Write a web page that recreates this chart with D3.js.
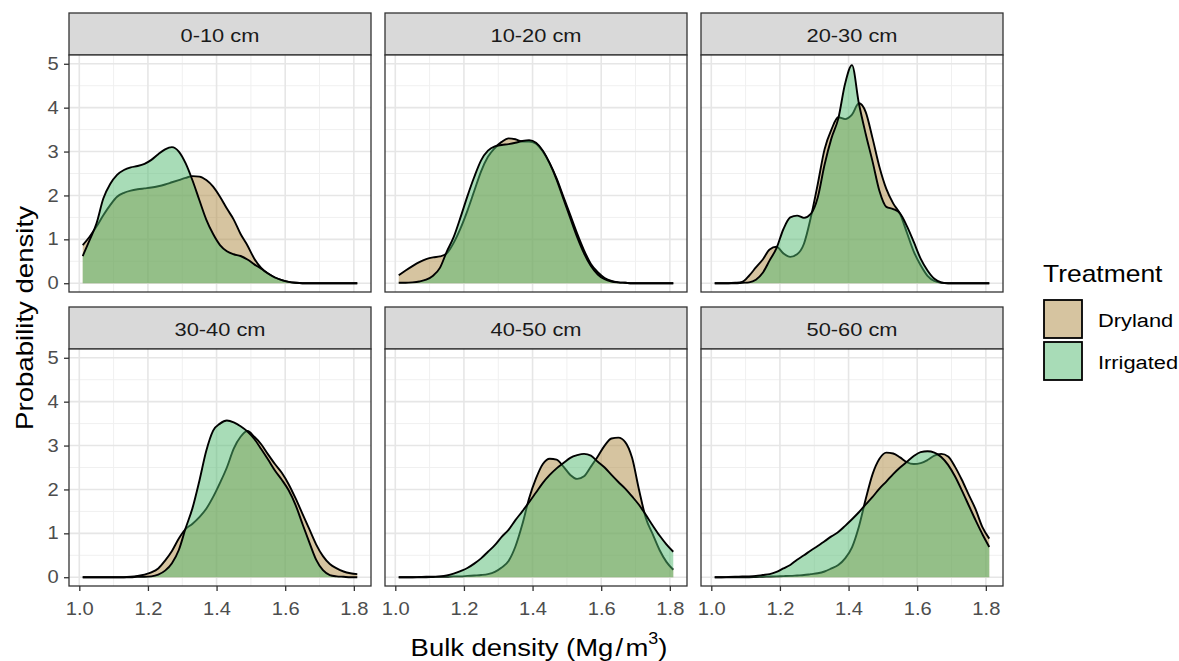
<!DOCTYPE html>
<html lang="en">
<head>
<meta charset="utf-8">
<style>
  body { margin: 0; background: #fff; }
  svg text { font-family: "Liberation Sans", Arial, sans-serif; }
</style>
</head>
<body>
<svg width="1179" height="661"></svg>
<script src="https://d3js.org/d3.v7.min.js"></script>
<script>
// facets and groups
var depths = ["0-10 cm", "10-20 cm", "20-30 cm", "30-40 cm", "40-50 cm", "50-60 cm"];
var treatments = ["Dryland", "Irrigated"];
var treatmentColors = ["#AD8941", "#51B96F"];

// x positions of the density estimate (Mg/m3)
var bulkDensity = [1.01, 1.03, 1.05, 1.07, 1.09, 1.11, 1.13, 1.15, 1.17, 1.19,
    1.21, 1.23, 1.25, 1.27, 1.29, 1.31, 1.33, 1.35, 1.37, 1.39,
    1.41, 1.43, 1.45, 1.47, 1.49, 1.51, 1.53, 1.55, 1.57, 1.59,
    1.61, 1.63, 1.65, 1.67, 1.69, 1.71, 1.73, 1.75, 1.77, 1.79, 1.81];

// densities
var dryland_0_10 = [0.87, 1.06, 1.29, 1.55, 1.78, 1.97, 2.06, 2.11, 2.14, 2.16,
    2.18, 2.21, 2.25, 2.30, 2.35, 2.40, 2.44, 2.43, 2.35, 2.20,
    1.97, 1.70, 1.45, 1.12, 0.86, 0.56, 0.35, 0.22, 0.13, 0.07,
    0.03, 0.01, 0, 0, 0, 0, 0, 0, 0, 0, 0];
var irrigated_0_10 = [0.62, 0.98, 1.36, 1.93, 2.26, 2.47, 2.58, 2.64, 2.67, 2.72,
    2.81, 2.94, 3.05, 3.10, 3.00, 2.73, 2.34, 1.89, 1.45, 1.12,
    0.87, 0.73, 0.66, 0.62, 0.54, 0.43, 0.33, 0.22, 0.13, 0.07,
    0.03, 0.01, 0, 0, 0, 0, 0, 0, 0, 0, 0];
var dryland_10_20 = [0.18, 0.29, 0.39, 0.48, 0.55, 0.59, 0.61, 0.68, 0.92, 1.25,
    1.65, 2.10, 2.55, 2.88, 3.08, 3.22, 3.30, 3.28, 3.23, 3.23,
    3.18, 3.00, 2.73, 2.39, 1.97, 1.55, 1.13, 0.75, 0.44, 0.25,
    0.12, 0.05, 0.02, 0.01, 0, 0, 0, 0, 0, 0, 0];
var irrigated_10_20 = [0.01, 0.01, 0.02, 0.04, 0.08, 0.17, 0.35, 0.72, 1.05, 1.50,
    1.98, 2.42, 2.80, 3.02, 3.12, 3.15, 3.17, 3.20, 3.24, 3.26,
    3.20, 3.02, 2.73, 2.36, 1.92, 1.48, 1.05, 0.68, 0.39, 0.20,
    0.09, 0.04, 0.02, 0.01, 0, 0, 0, 0, 0, 0, 0];
var dryland_20_30 = [0, 0, 0, 0.01, 0.03, 0.17, 0.36, 0.54, 0.77, 0.83,
    0.68, 0.60, 0.66, 0.90, 1.50, 2.25, 3.05, 3.50, 3.78, 3.74,
    3.84, 4.10, 3.90, 3.30, 2.65, 2.15, 1.82, 1.58, 1.15, 0.72,
    0.41, 0.17, 0.05, 0.01, 0, 0, 0, 0, 0, 0, 0];
var irrigated_20_30 = [0, 0, 0, 0, 0.01, 0.02, 0.08, 0.24, 0.52, 0.80,
    1.23, 1.50, 1.54, 1.49, 1.58, 1.95, 2.70, 3.30, 3.75, 4.55,
    4.97, 4.10, 3.40, 2.77, 2.10, 1.74, 1.69, 1.59, 1.30, 0.94,
    0.56, 0.29, 0.10, 0.02, 0, 0, 0, 0, 0, 0, 0];
var dryland_30_40 = [0, 0, 0, 0, 0, 0, 0, 0.01, 0.03, 0.06,
    0.11, 0.20, 0.38, 0.60, 0.88, 1.10, 1.22, 1.37, 1.56, 1.83,
    2.15, 2.50, 2.93, 3.20, 3.33, 3.20, 3.03, 2.80, 2.58, 2.38,
    2.12, 1.80, 1.45, 1.10, 0.75, 0.48, 0.30, 0.20, 0.13, 0.09, 0.07];
var irrigated_30_40 = [0, 0, 0, 0, 0, 0, 0, 0, 0.01, 0.01,
    0.02, 0.06, 0.15, 0.32, 0.62, 1.12, 1.58, 2.20, 2.88, 3.34,
    3.50, 3.57, 3.53, 3.44, 3.32, 3.15, 2.92, 2.68, 2.43, 2.22,
    1.98, 1.65, 1.22, 0.80, 0.40, 0.16, 0.05, 0.02, 0.01, 0, 0];
var dryland_40_50 = [0, 0, 0, 0, 0, 0.005, 0.01, 0.01, 0.02, 0.02,
    0.03, 0.04, 0.05, 0.07, 0.12, 0.22, 0.37, 0.70, 1.20, 1.80,
    2.25, 2.58, 2.70, 2.68, 2.52, 2.33, 2.24, 2.30, 2.52, 2.75,
    3.00, 3.16, 3.18, 3.08, 2.72, 2.00, 1.35, 0.98, 0.62, 0.35, 0.17];
var irrigated_40_50 = [0, 0, 0, 0.005, 0.01, 0.01, 0.02, 0.04, 0.08, 0.14,
    0.21, 0.31, 0.43, 0.58, 0.73, 0.92, 1.08, 1.30, 1.50, 1.71,
    1.93, 2.15, 2.33, 2.48, 2.60, 2.72, 2.78, 2.81, 2.77, 2.63,
    2.50, 2.33, 2.17, 2.02, 1.84, 1.65, 1.42, 1.18, 0.95, 0.75, 0.58];
var dryland_50_60 = [0, 0, 0, 0, 0, 0, 0.005, 0.01, 0.015, 0.02,
    0.025, 0.03, 0.04, 0.05, 0.07, 0.09, 0.13, 0.20, 0.28, 0.43,
    0.68, 1.15, 1.78, 2.35, 2.70, 2.84, 2.82, 2.73, 2.62, 2.58,
    2.60, 2.67, 2.77, 2.81, 2.75, 2.52, 2.22, 1.88, 1.55, 1.14, 0.88];
var irrigated_50_60 = [0, 0, 0.005, 0.01, 0.015, 0.02, 0.03, 0.05, 0.07, 0.12,
    0.20, 0.28, 0.40, 0.50, 0.61, 0.71, 0.82, 0.93, 1.03, 1.17,
    1.32, 1.48, 1.66, 1.83, 2.02, 2.18, 2.35, 2.50, 2.63, 2.76,
    2.85, 2.87, 2.84, 2.74, 2.56, 2.30, 1.98, 1.64, 1.30, 0.98, 0.69];

var xTicks = [1.0, 1.2, 1.4, 1.6, 1.8];
var xMinor = [1.1, 1.3, 1.5, 1.7];
var yTicks = [0, 1, 2, 3, 4, 5];
var yMinor = [0.5, 1.5, 2.5, 3.5, 4.5];

var panels = [
    [dryland_0_10, irrigated_0_10],
    [dryland_10_20, irrigated_10_20],
    [dryland_20_30, irrigated_20_30],
    [dryland_30_40, irrigated_30_40],
    [dryland_40_50, irrigated_40_50],
    [dryland_50_60, irrigated_50_60]
];

var svg = d3.select("svg");

// layout
var panelW = 302, panelH = 237, stripH = 42;
var colLeft = [69, 385, 701];
var rowTop = [13, 307];
var SX = 1.15; // text in the picture is a bit wide

var x = d3.scaleLinear().domain([0.97, 1.85]).range([0, panelW]);
var y = d3.scaleLinear().domain([-0.2, 5.2]).range([panelH, 0]);

var area = d3.area()
    .x(function (d) { return x(d[0]); })
    .y0(y(0))
    .y1(function (d) { return y(d[1]); })
    .curve(d3.curveMonotoneX);
var line = d3.line()
    .x(function (d) { return x(d[0]); })
    .y(function (d) { return y(d[1]); })
    .curve(d3.curveMonotoneX);

function addText(g, tx, ty, str, size, anchor, fill) {
    return g.append("text")
        .attr("transform", "translate(" + tx + "," + ty + ") scale(" + SX + ",1)")
        .attr("text-anchor", anchor)
        .attr("dominant-baseline", "central")
        .style("font-size", size + "px")
        .attr("fill", fill)
        .text(str);
}

function styleTicks(ax) {
    ax.select(".domain").remove();
    ax.selectAll("line").attr("stroke", "#333333").attr("stroke-width", 1.3);
    ax.selectAll("text")
        .attr("transform", "scale(" + SX + ",1)")
        .attr("fill", "#4D4D4D")
        .style("font-size", "17.5px")
        .style("font-family", "Liberation Sans, Arial, sans-serif");
}

depths.forEach(function (depth, i) {
    var col = i % 3, row = Math.floor(i / 3);
    var left = colLeft[col], top = rowTop[row];

    // strip
    var strip = svg.append("g").attr("transform", "translate(" + left + "," + top + ")");
    strip.append("rect")
        .attr("width", panelW).attr("height", stripH)
        .attr("fill", "#D9D9D9").attr("stroke", "#333333").attr("stroke-width", 1.3);
    addText(strip, panelW / 2, stripH / 2 + 1, depth, 19, "middle", "#1A1A1A");

    var g = svg.append("g").attr("transform", "translate(" + left + "," + (top + stripH) + ")");
    g.append("rect").attr("width", panelW).attr("height", panelH).attr("fill", "#fff");

    // grid
    g.selectAll(".minx").data(xMinor).enter().append("line")
        .attr("x1", x).attr("x2", x).attr("y1", 0).attr("y2", panelH)
        .attr("stroke", "#F0F0F0").attr("stroke-width", 1);
    g.selectAll(".miny").data(yMinor).enter().append("line")
        .attr("y1", y).attr("y2", y).attr("x1", 0).attr("x2", panelW)
        .attr("stroke", "#F0F0F0").attr("stroke-width", 1);
    g.selectAll(".majx").data(xTicks).enter().append("line")
        .attr("x1", x).attr("x2", x).attr("y1", 0).attr("y2", panelH)
        .attr("stroke", "#E6E6E6").attr("stroke-width", 1.6);
    g.selectAll(".majy").data(yTicks).enter().append("line")
        .attr("y1", y).attr("y2", y).attr("x1", 0).attr("x2", panelW)
        .attr("stroke", "#E6E6E6").attr("stroke-width", 1.6);

    // densities: dryland first, irrigated on top
    panels[i].forEach(function (vals, t) {
        var pts = bulkDensity.map(function (b, k) { return [b, vals[k]]; });
        g.append("path").datum(pts)
            .attr("d", area)
            .attr("fill", treatmentColors[t])
            .attr("fill-opacity", 0.5);
        g.append("path").datum(pts)
            .attr("d", line)
            .attr("fill", "none")
            .attr("stroke", "#000")
            .attr("stroke-width", 1.9);
    });

    g.append("rect").attr("width", panelW).attr("height", panelH)
        .attr("fill", "none").attr("stroke", "#333333").attr("stroke-width", 1.3);

    // axes
    if (col === 0) {
        var ya = g.append("g")
            .call(d3.axisLeft(y).tickValues(yTicks).tickFormat(d3.format("d")).tickSize(5).tickPadding(4));
        styleTicks(ya);
    }
    if (row === 1) {
        var xa = g.append("g").attr("transform", "translate(0," + panelH + ")")
            .call(d3.axisBottom(x).tickValues(xTicks).tickFormat(d3.format(".1f")).tickSize(5).tickPadding(12));
        styleTicks(xa);
    }
});

// axis titles
var xt = svg.append("text")
    .attr("transform", "translate(" + (colLeft[0] + (colLeft[2] + panelW - colLeft[0]) / 2 + 3) + ",648) scale(1.12,1)")
    .attr("text-anchor", "middle")
    .attr("dominant-baseline", "central")
    .style("font-size", "24.5px")
    .attr("fill", "#000");
xt.append("tspan").text("Bulk density (Mg");
xt.append("tspan").attr("dx", 2).text("/");
xt.append("tspan").attr("dx", 2).text("m");
xt.append("tspan").attr("dy", -10).style("font-size", "16px").text("3");
xt.append("tspan").attr("dy", 10).text(")");

svg.append("text")
    .attr("transform", "translate(25,318) rotate(-90) scale(1.2,1)")
    .attr("text-anchor", "middle")
    .attr("dominant-baseline", "central")
    .style("font-size", "23px")
    .attr("fill", "#000")
    .text("Probability density");

// legend
var legend = svg.append("g").attr("transform", "translate(1043,0)");
addText(legend, 0, 274, "Treatment", 23, "start", "#000");
treatments.forEach(function (name, t) {
    var ky = 300 + t * 42;
    legend.append("rect")
        .attr("x", 1).attr("y", ky).attr("width", 38).attr("height", 38)
        .attr("fill", treatmentColors[t]).attr("fill-opacity", 0.5)
        .attr("stroke", "#000").attr("stroke-width", 1.8);
    addText(legend, 55, ky + 20, name, 19, "start", "#000");
});
</script>
</body>
</html>
